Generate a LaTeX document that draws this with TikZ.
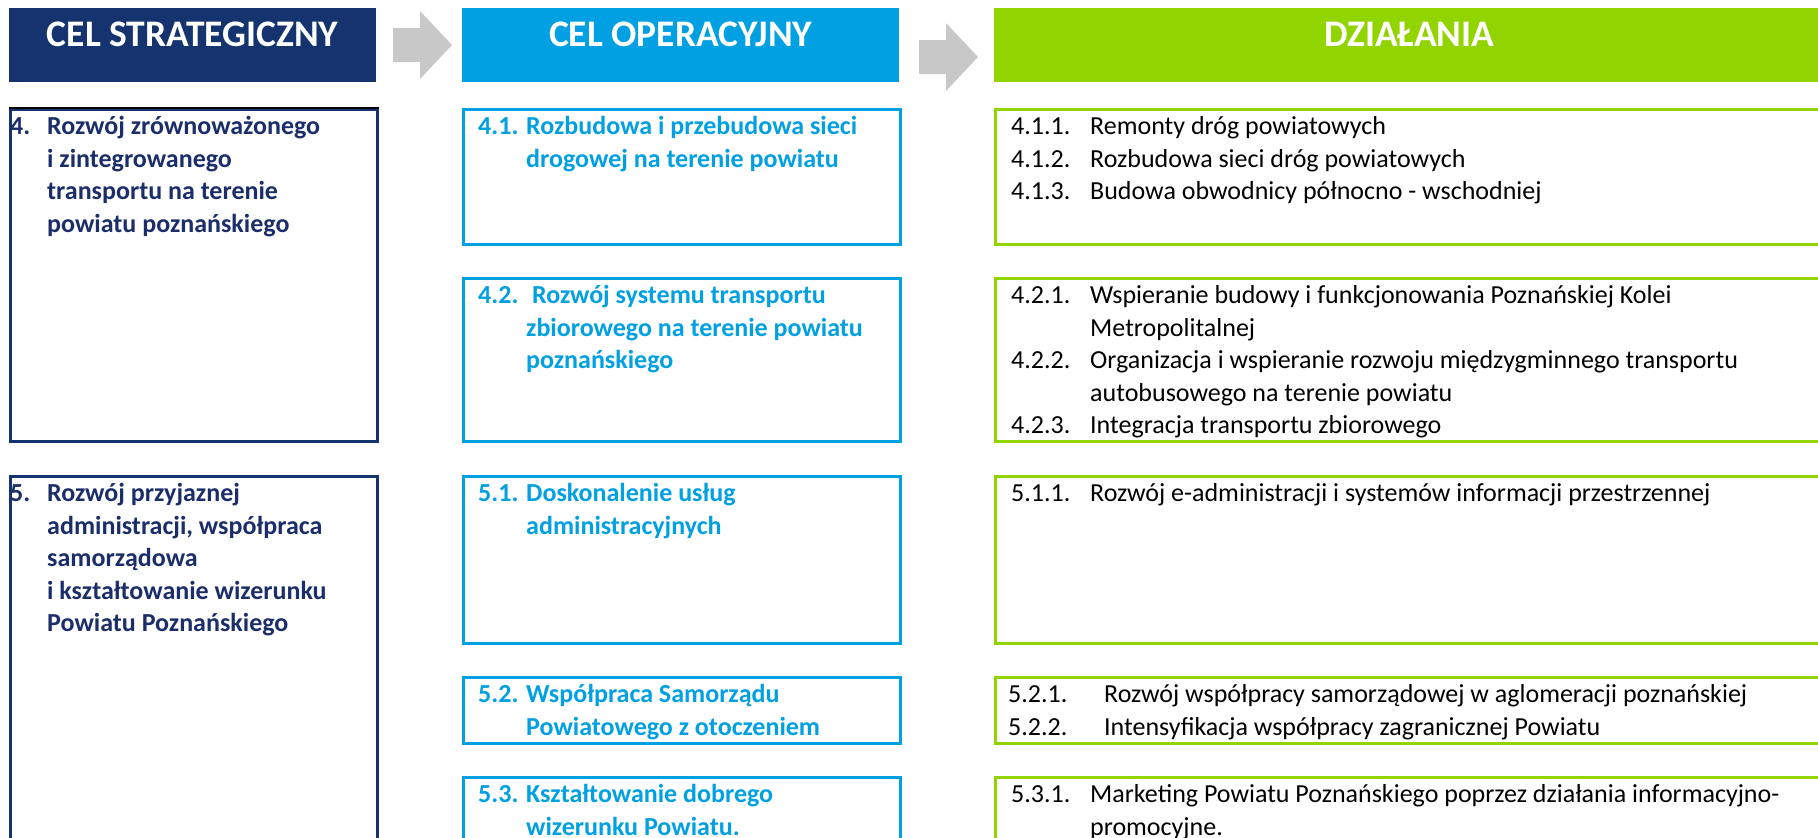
\documentclass[tikz,border=0pt]{standalone}
\usepackage{fontspec}
\setmainfont{Carlito}
\usepackage{xcolor}
\usepackage{tikz}
\usetikzlibrary{positioning}

\definecolor{granat}{HTML}{15336F}
\definecolor{niebieski}{HTML}{00A0E3}
\definecolor{zielony}{HTML}{92D400}
\definecolor{szary}{HTML}{C8C8C8}
\definecolor{tekstgranat}{HTML}{1B2E6B}

\newcommand{\poz}[3]{\strut\makebox[#1][l]{#2}#3}
\newcommand{\dalej}[2]{\strut\hspace*{#1}#2}

\tikzset{
	naglowek/.style={fill=#1, anchor=north west, inner sep=0pt, minimum height=74pt},
	tytul/.style={text=white, inner sep=0pt, font=\fontsize{37.5}{42}\selectfont\bfseries},
	ramka/.style={draw=#1, line width=2.5pt, anchor=north west, inner sep=0pt},
	opis/.style={anchor=north west, inner sep=0pt, align=left, font=\fontsize{26}{32.5}\selectfont},
	opisb/.style={opis, font=\fontsize{26}{32.5}\selectfont\bfseries},
}

\begin{document}
\begin{tikzpicture}[x=1pt, y=-1pt]
		\def \xs {9}
		\def \xo {462}
		\def \xd {994}

		\useasboundingbox (0,0) rectangle (1818,838);
		\clip (0,0) rectangle (1818,838);

		\node[naglowek=granat, minimum width=367pt] (hs) at (\xs,8) {};
		\node[naglowek=niebieski, minimum width=437pt] (ho) at (\xo,8) {};
		\node[naglowek=zielony, minimum width=830pt] (hd) at (\xd,8) {};
		\node[tytul] (ths) at ([yshift=-26pt]hs.north) {CEL STRATEGICZNY};
		\node[tytul] (tho) at ([yshift=-26pt]ho.north) {CEL OPERACYJNY};
		\node[tytul] (thd) at ([yshift=-26pt]hd.north) {DZIAŁANIA};

		\foreach \ax/\ay in {393/28, 919/40} {
			\fill[szary] (\ax,\ay) -- (\ax+27,\ay) -- (\ax+27,\ay-17) -- (\ax+59,\ay+17)
				-- (\ax+27,\ay+51) -- (\ax+27,\ay+34) -- (\ax,\ay+34) -- cycle;
		}

		\node[ramka=granat, minimum width=367pt, minimum height=332pt] (s4) at (\xs,108) {};
		\node[ramka=granat, minimum width=367pt, minimum height=400pt] (s5) at (\xs,475) {};
		\draw[black, line width=2.5pt] (s4.north west) -- (s4.north east);

		\foreach \nazwa/\gora/\wys in {41/108/135pt, 42/277/163pt, 51/475/167pt, 52/676/66pt, 53/776/90pt} {
			\node[ramka=niebieski, minimum width=437pt, minimum height=\wys] (o\nazwa) at (\xo,\gora) {};
			\node[ramka=zielony, minimum width=840pt, minimum height=\wys] (d\nazwa) at (\xd,\gora) {};
		}

		\node[opisb, text=tekstgranat] (ts4) at ([xshift=1pt,yshift=-4pt]s4.north west)
			{\poz{37pt}{4.}{Rozwój zrównoważonego}\\ \dalej{37pt}{i zintegrowanego}\\
			 \dalej{37pt}{transportu na terenie}\\ \dalej{37pt}{powiatu poznańskiego}};
		\node[opisb, text=tekstgranat] (ts5) at ([xshift=1pt,yshift=-4pt]s5.north west)
			{\poz{37pt}{5.}{Rozwój przyjaznej}\\ \dalej{37pt}{administracji, współpraca}\\
			 \dalej{37pt}{samorządowa}\\ \dalej{37pt}{i kształtowanie wizerunku}\\
			 \dalej{37pt}{Powiatu Poznańskiego}};

		\node[opisb, text=niebieski] (to41) at ([xshift=16pt,yshift=-4pt]o41.north west)
			{\poz{48pt}{4.1.}{Rozbudowa i przebudowa sieci}\\ \dalej{48pt}{drogowej na terenie powiatu}};
		\node[opisb, text=niebieski] (to42) at ([xshift=16pt,yshift=-4pt]o42.north west)
			{\poz{48pt}{4.2.}{\ Rozwój systemu transportu}\\ \dalej{48pt}{zbiorowego na terenie powiatu}\\
			 \dalej{48pt}{poznańskiego}};
		\node[opisb, text=niebieski] (to51) at ([xshift=16pt,yshift=-4pt]o51.north west)
			{\poz{48pt}{5.1.}{Doskonalenie usług}\\ \dalej{48pt}{administracyjnych}};
		\node[opisb, text=niebieski] (to52) at ([xshift=16pt,yshift=-4pt]o52.north west)
			{\poz{48pt}{5.2.}{Współpraca Samorządu}\\ \dalej{48pt}{Powiatowego z otoczeniem}};
		\node[opisb, text=niebieski] (to53) at ([xshift=16pt,yshift=-4pt]o53.north west)
			{\poz{48pt}{5.3.}{Kształtowanie dobrego}\\ \dalej{48pt}{wizerunku Powiatu.}};

		\node[opis] (td41) at ([xshift=17pt,yshift=-4pt]d41.north west)
			{\poz{79pt}{4.1.1.}{Remonty dróg powiatowych}\\
			 \poz{79pt}{4.1.2.}{Rozbudowa sieci dróg powiatowych}\\
			 \poz{79pt}{4.1.3.}{Budowa obwodnicy północno - wschodniej}};
		\node[opis] (td42) at ([xshift=17pt,yshift=-4pt]d42.north west)
			{\poz{79pt}{4.2.1.}{Wspieranie budowy i funkcjonowania Poznańskiej Kolei}\\
			 \dalej{79pt}{Metropolitalnej}\\
			 \poz{79pt}{4.2.2.}{Organizacja i wspieranie rozwoju międzygminnego transportu}\\
			 \dalej{79pt}{autobusowego na terenie powiatu}\\
			 \poz{79pt}{4.2.3.}{Integracja transportu zbiorowego}};
		\node[opis] (td51) at ([xshift=17pt,yshift=-4pt]d51.north west)
			{\poz{79pt}{5.1.1.}{Rozwój e-administracji i systemów informacji przestrzennej}};
		\node[opis] (td52) at ([xshift=14pt,yshift=-4pt]d52.north west)
			{\poz{96pt}{5.2.1.}{Rozwój współpracy samorządowej w aglomeracji poznańskiej}\\
			 \poz{96pt}{5.2.2.}{Intensyfikacja współpracy zagranicznej Powiatu}};
		\node[opis] (td53) at ([xshift=17pt,yshift=-4pt]d53.north west)
			{\poz{79pt}{5.3.1.}{Marketing Powiatu Poznańskiego poprzez działania informacyjno-}\\
			 \dalej{79pt}{promocyjne.}};
	\end{tikzpicture}
\end{document}
